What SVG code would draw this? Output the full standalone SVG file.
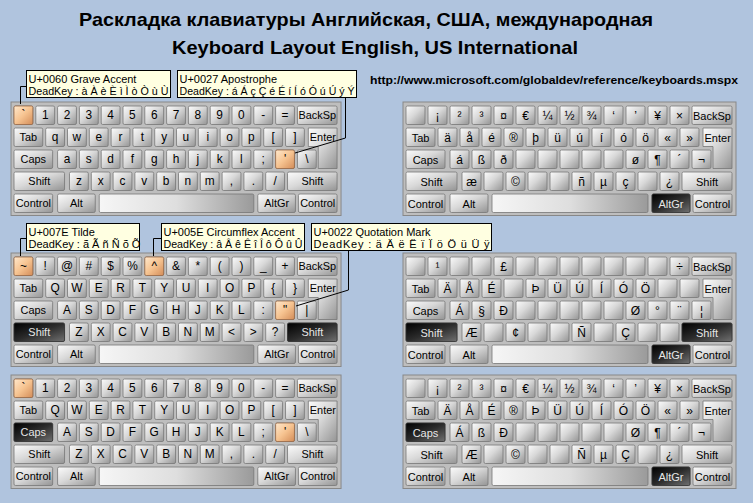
<svg xmlns="http://www.w3.org/2000/svg" width="753" height="503" viewBox="0 0 753 503">
<style>
.k{fill:url(#gk);stroke:#767676;stroke-width:.8}
.o{fill:url(#go);stroke:#9a6a48;stroke-width:.8}
.d{fill:url(#gd);stroke:#333;stroke-width:.8}
.s{fill:url(#gs);stroke:#767676;stroke-width:.8}
.f{fill:#bebebe;stroke:#888;stroke-width:1}
.t{font-family:"Liberation Sans",Arial,sans-serif;font-size:11px;fill:#000;text-anchor:middle}
.c1{font-size:12px}
.ts{text-anchor:start}
.w{fill:#e6e6e6}
.cb{fill:#ffffe1;stroke:#000;stroke-width:1}
.ct{font-family:"Liberation Sans",Arial,sans-serif;font-size:11px;fill:#000}
.ln{fill:none;stroke:#000;stroke-width:1}
.ti{font-family:"Liberation Sans",Arial,sans-serif;font-weight:bold;fill:#000}
</style>
<defs>
<linearGradient id="gk" x1="0" y1="0" x2="1" y2="1">
<stop offset="0" stop-color="#fcfcfc"/><stop offset="0.45" stop-color="#d8d8d8"/><stop offset="1" stop-color="#949494"/>
</linearGradient>
<linearGradient id="go" x1="0" y1="0" x2="1" y2="1">
<stop offset="0" stop-color="#ffe8cc"/><stop offset="0.5" stop-color="#f6c390"/><stop offset="1" stop-color="#d38c58"/>
</linearGradient>
<linearGradient id="gd" x1="0" y1="0" x2="1" y2="1">
<stop offset="0" stop-color="#000"/><stop offset="0.5" stop-color="#2c2c2c"/><stop offset="1" stop-color="#707070"/>
</linearGradient>
<linearGradient id="gs" x1="0" y1="0" x2="1" y2="0">
<stop offset="0" stop-color="#f6f6f6"/><stop offset="0.5" stop-color="#dedede"/><stop offset="1" stop-color="#9a9a9a"/>
</linearGradient>
<rect id="fr" class="f" x="-3" y="-4" width="333" height="113.5"/>
<g id="r1">
<rect class="k" x="0" width="19" height="18.5" rx="1.5"/><rect class="k" x="22" width="19" height="18.5" rx="1.5"/><rect class="k" x="44" width="19" height="18.5" rx="1.5"/><rect class="k" x="66" width="19" height="18.5" rx="1.5"/><rect class="k" x="88" width="19" height="18.5" rx="1.5"/><rect class="k" x="110" width="19" height="18.5" rx="1.5"/><rect class="k" x="132" width="19" height="18.5" rx="1.5"/><rect class="k" x="154" width="19" height="18.5" rx="1.5"/><rect class="k" x="176" width="19" height="18.5" rx="1.5"/><rect class="k" x="198" width="19" height="18.5" rx="1.5"/><rect class="k" x="220" width="19" height="18.5" rx="1.5"/><rect class="k" x="242" width="19" height="18.5" rx="1.5"/><rect class="k" x="264" width="19" height="18.5" rx="1.5"/><rect class="k" x="286" width="40" height="18.5" rx="1.5"/>
</g>
<g id="r2">
<rect class="k" x="0" width="29" height="18.5" rx="1.5"/><rect class="k" x="32" width="19" height="18.5" rx="1.5"/><rect class="k" x="54" width="19" height="18.5" rx="1.5"/><rect class="k" x="76" width="19" height="18.5" rx="1.5"/><rect class="k" x="98" width="19" height="18.5" rx="1.5"/><rect class="k" x="120" width="19" height="18.5" rx="1.5"/><rect class="k" x="142" width="19" height="18.5" rx="1.5"/><rect class="k" x="164" width="19" height="18.5" rx="1.5"/><rect class="k" x="186" width="19" height="18.5" rx="1.5"/><rect class="k" x="208" width="19" height="18.5" rx="1.5"/><rect class="k" x="230" width="19" height="18.5" rx="1.5"/><rect class="k" x="252" width="19" height="18.5" rx="1.5"/><rect class="k" x="274" width="19" height="18.5" rx="1.5"/>
<path class="k" d="M297,0 H326 V40.5 H307 V18.5 H297 Z"/>
</g>
<g id="r3">
<rect class="k" x="0" width="39" height="18.5" rx="1.5"/><rect class="k" x="44" width="19" height="18.5" rx="1.5"/><rect class="k" x="66" width="19" height="18.5" rx="1.5"/><rect class="k" x="88" width="19" height="18.5" rx="1.5"/><rect class="k" x="110" width="19" height="18.5" rx="1.5"/><rect class="k" x="132" width="19" height="18.5" rx="1.5"/><rect class="k" x="154" width="19" height="18.5" rx="1.5"/><rect class="k" x="176" width="19" height="18.5" rx="1.5"/><rect class="k" x="198" width="19" height="18.5" rx="1.5"/><rect class="k" x="220" width="19" height="18.5" rx="1.5"/><rect class="k" x="242" width="19" height="18.5" rx="1.5"/><rect class="k" x="264" width="19" height="18.5" rx="1.5"/><rect class="k" x="286" width="19" height="18.5" rx="1.5"/>
</g>
<g id="r4">
<rect class="k" x="0" width="51" height="18.5" rx="1.5"/><rect class="k" x="56" width="19" height="18.5" rx="1.5"/><rect class="k" x="78" width="19" height="18.5" rx="1.5"/><rect class="k" x="100" width="19" height="18.5" rx="1.5"/><rect class="k" x="122" width="19" height="18.5" rx="1.5"/><rect class="k" x="144" width="19" height="18.5" rx="1.5"/><rect class="k" x="166" width="19" height="18.5" rx="1.5"/><rect class="k" x="188" width="19" height="18.5" rx="1.5"/><rect class="k" x="210" width="19" height="18.5" rx="1.5"/><rect class="k" x="232" width="19" height="18.5" rx="1.5"/><rect class="k" x="254" width="19" height="18.5" rx="1.5"/><rect class="k" x="276" width="50" height="18.5" rx="1.5"/>
</g>
<g id="r5">
<rect class="k" x="0" width="39" height="18.5" rx="1.5"/><rect class="k" x="44" width="38" height="18.5" rx="1.5"/><rect class="s" x="86" width="156" height="18.5" rx="1.5"/><rect class="k" x="246" width="38" height="18.5" rx="1.5"/><rect class="k" x="287" width="39" height="18.5" rx="1.5"/>
</g>
<g id="base">
<use href="#fr"/><use href="#r1"/><use href="#r2" y="22"/><use href="#r3" y="44"/><use href="#r4" y="66"/><use href="#r5" y="88"/>
</g>
<g id="wd" class="t">
<text x="306" y="13.5">BackSp</text><text x="14.5" y="35.5">Tab</text><text class="ts" x="298.5" y="35.5">Enter</text><text x="19.5" y="101.5">Control</text><text x="63" y="101.5">Alt</text><text x="306.5" y="101.5">Control</text>
</g>
<rect id="dCaps" class="d" x="0" y="44" width="39" height="18.5" rx="1.5"/>
<g id="dShift"><rect class="d" x="0" y="66" width="51" height="18.5" rx="1.5"/><rect class="d" x="276" y="66" width="50" height="18.5" rx="1.5"/></g>
<rect id="dAltGr" class="d" x="246" y="88" width="38" height="18.5" rx="1.5"/>
</defs>
<rect width="753" height="503" fill="#b0c4de"/>
<g id="title">
<text class="ti" x="366" y="26" font-size="19" text-anchor="middle" textLength="574" lengthAdjust="spacingAndGlyphs">Раскладка клавиатуры Английская, США, международная</text>
<text class="ti" x="375" y="54" font-size="19" text-anchor="middle" textLength="406" lengthAdjust="spacingAndGlyphs">Keyboard Layout English, US International</text>
<text class="ti" x="370" y="84" font-size="11" textLength="368" lengthAdjust="spacingAndGlyphs">http://www.microsoft.com/globaldev/reference/keyboards.mspx</text>
</g>

<g id="kb1" transform="translate(14,106) scale(0.991,1)">
<use href="#base"/>
<rect class="o" x="0" y="0" width="19" height="18.5" rx="1.5"/>
<rect class="o" x="264" y="44" width="19" height="18.5" rx="1.5"/>
<use href="#wd"/>
<g class="t c1">
<text x="9.5 31.5 53.5 75.5 97.5 119.5 141.5 163.5 185.5 207.5 229.5 251.5 273.5" y="13.5">`1234567890-=</text>
<text x="41.5 63.5 85.5 107.5 129.5 151.5 173.5 195.5 217.5 239.5 261.5 283.5" y="35.5">qwertyuiop[]</text>
<text x="53.5 75.5 97.5 119.5 141.5 163.5 185.5 207.5 229.5 251.5 273.5 295.5" y="57.5">asdfghjkl;'\</text>
<text x="65.5 87.5 109.5 131.5 153.5 175.5 197.5 219.5 241.5 263.5" y="79.5">zxcvbnm,./</text>
</g>
<g class="t"><text x="19.5" y="57.5">Caps</text><text x="25.5" y="79.5">Shift</text><text x="301" y="79.5">Shift</text><text x="265" y="101.5">AltGr</text></g>
</g>

<g id="kb2" transform="translate(406,106)">
<use href="#base"/>
<use href="#dAltGr"/>
<use href="#wd"/>
<g class="t c1">
<text x="31.5 53.5 75.5 97.5 119.5 141.5 163.5 185.5 207.5 229.5 251.5 273.5" y="13.5">¡²³¤€¼½¾‘’¥×</text>
<text x="41.5 63.5 85.5 107.5 129.5 151.5 173.5 195.5 217.5 239.5 261.5 283.5" y="35.5">äåé®þüúíóö«»</text>
<text x="53.5 75.5 97.5 229.5 251.5 273.5 295.5" y="57.5">áßðø¶´¬</text>
<text x="65.5 109.5 175.5 197.5 219.5 263.5" y="79.5">æ©ñµç¿</text>
</g>
<g class="t"><text x="19.5" y="57.5">Caps</text><text x="25.5" y="79.5">Shift</text><text x="301" y="79.5">Shift</text><text class="w" x="265" y="101.5">AltGr</text></g>
</g>

<g id="kb3" transform="translate(14,257) scale(0.991,1)">
<use href="#base"/>
<use href="#dShift"/>
<rect class="o" x="0" y="0" width="19" height="18.5" rx="1.5"/>
<rect class="o" x="132" y="0" width="19" height="18.5" rx="1.5"/>
<rect class="o" x="264" y="44" width="19" height="18.5" rx="1.5"/>
<use href="#wd"/>
<g class="t c1">
<text x="9.5 31.5 53.5 75.5 97.5 119.5 141.5 163.5 185.5 207.5 229.5 251.5 273.5" y="13.5">~!@#$%^&amp;*()_+</text>
<text x="41.5 63.5 85.5 107.5 129.5 151.5 173.5 195.5 217.5 239.5 261.5 283.5" y="35.5">QWERTYUIOP{}</text>
<text x="53.5 75.5 97.5 119.5 141.5 163.5 185.5 207.5 229.5 251.5 273.5 295.5" y="57.5">ASDFGHJKL:"|</text>
<text x="65.5 87.5 109.5 131.5 153.5 175.5 197.5 219.5 241.5 263.5" y="79.5">ZXCVBNM&lt;&gt;?</text>
</g>
<g class="t"><text x="19.5" y="57.5">Caps</text><text class="w" x="25.5" y="79.5">Shift</text><text class="w" x="301" y="79.5">Shift</text><text x="265" y="101.5">AltGr</text></g>
</g>

<g id="kb4" transform="translate(406,257)">
<use href="#base"/>
<use href="#dShift"/>
<use href="#dAltGr"/>
<use href="#wd"/>
<g class="t c1">
<text x="31.5 97.5 273.5" y="13.5">¹£÷</text>
<text x="41.5 63.5 85.5 129.5 151.5 173.5 195.5 217.5 239.5" y="35.5">ÄÅÉÞÜÚÍÓÖ</text>
<text x="53.5 75.5 97.5 229.5 251.5 273.5 295.5" y="57.5">Á§ÐØ°¨¦</text>
<text x="65.5 109.5 175.5 219.5" y="79.5">Æ¢ÑÇ</text>
</g>
<g class="t"><text x="19.5" y="57.5">Caps</text><text class="w" x="25.5" y="79.5">Shift</text><text class="w" x="301" y="79.5">Shift</text><text class="w" x="265" y="101.5">AltGr</text></g>
</g>

<g id="kb5" transform="translate(14,379) scale(0.991,1)">
<use href="#base"/>
<use href="#dCaps"/>
<rect class="o" x="0" y="0" width="19" height="18.5" rx="1.5"/>
<rect class="o" x="264" y="44" width="19" height="18.5" rx="1.5"/>
<use href="#wd"/>
<g class="t c1">
<text x="9.5 31.5 53.5 75.5 97.5 119.5 141.5 163.5 185.5 207.5 229.5 251.5 273.5" y="13.5">`1234567890-=</text>
<text x="41.5 63.5 85.5 107.5 129.5 151.5 173.5 195.5 217.5 239.5 261.5 283.5" y="35.5">QWERTYUIOP[]</text>
<text x="53.5 75.5 97.5 119.5 141.5 163.5 185.5 207.5 229.5 251.5 273.5 295.5" y="57.5">ASDFGHJKL;'\</text>
<text x="65.5 87.5 109.5 131.5 153.5 175.5 197.5 219.5 241.5 263.5" y="79.5">ZXCVBNM,./</text>
</g>
<g class="t"><text class="w" x="19.5" y="57.5">Caps</text><text x="25.5" y="79.5">Shift</text><text x="301" y="79.5">Shift</text><text x="265" y="101.5">AltGr</text></g>
</g>

<g id="kb6" transform="translate(406,379)">
<use href="#base"/>
<use href="#dCaps"/>
<use href="#dAltGr"/>
<use href="#wd"/>
<g class="t c1">
<text x="31.5 53.5 75.5 97.5 119.5 141.5 163.5 185.5 207.5 229.5 251.5 273.5" y="13.5">¡²³¤€¼½¾‘’¥×</text>
<text x="41.5 63.5 85.5 107.5 129.5 151.5 173.5 195.5 217.5 239.5 261.5 283.5" y="35.5">ÄÅÉ®ÞÜÚÍÓÖ«»</text>
<text x="53.5 75.5 97.5 229.5 251.5 273.5 295.5" y="57.5">ÁßÐØ¶´¬</text>
<text x="65.5 109.5 175.5 197.5 219.5 263.5" y="79.5">Æ©ÑµÇ¿</text>
</g>
<g class="t"><text class="w" x="19.5" y="57.5">Caps</text><text x="25.5" y="79.5">Shift</text><text x="301" y="79.5">Shift</text><text class="w" x="265" y="101.5">AltGr</text></g>
</g>

<g id="connectors">
<path class="ln" d="M26.5,86.5 H20.5 V104"/>
<path class="ln" d="M345.5,98 V138 L295,153"/>
<path class="ln" d="M26.5,238.5 H20.5 V256"/>
<path class="ln" d="M161.5,238.5 H153.5 V256"/>
<path class="ln" d="M348.5,251 V290 L296,306"/>
</g>

<g id="callout-grave">
<rect class="cb" x="26.5" y="70.5" width="144" height="27"/>
<text class="ct" x="28.5" y="82.5">U+0060 Grave Accent</text>
<text class="ct" x="28.5" y="95" textLength="140" lengthAdjust="spacingAndGlyphs">DeadKey : à À è È ì Ì ò Ò ù Ù</text>
</g>
<g id="callout-apostrophe">
<rect class="cb" x="177.5" y="70.5" width="179" height="27"/>
<text class="ct" x="179.5" y="82.5">U+0027 Apostrophe</text>
<text class="ct" x="179.5" y="95" textLength="175" lengthAdjust="spacingAndGlyphs">DeadKey : á Á ç Ç é É í Í ó Ó ú Ú ý Ý</text>
</g>
<g id="callout-tilde">
<rect class="cb" x="26.5" y="223.5" width="113" height="27"/>
<text class="ct" x="28.5" y="235.5">U+007E Tilde</text>
<text class="ct" x="28.5" y="248">DeadKey : ã Ã ñ Ñ õ Õ</text>
</g>
<g id="callout-circumflex">
<rect class="cb" x="161.5" y="223.5" width="143" height="27"/>
<text class="ct" x="163.5" y="235.5">U+005E Circumflex Accent</text>
<text class="ct" x="163.5" y="248" textLength="139" lengthAdjust="spacingAndGlyphs">DeadKey : â Â ê Ê î Î ô Ô û Û</text>
</g>
<g id="callout-quotation">
<rect class="cb" x="311.5" y="223.5" width="180" height="27"/>
<text class="ct" x="313.5" y="235.5">U+0022 Quotation Mark</text>
<text class="ct" x="313.5" y="248" textLength="176" lengthAdjust="spacing">DeadKey : ä Ä ë Ë ï Ï ö Ö ü Ü ÿ</text>
</g>
</svg>
